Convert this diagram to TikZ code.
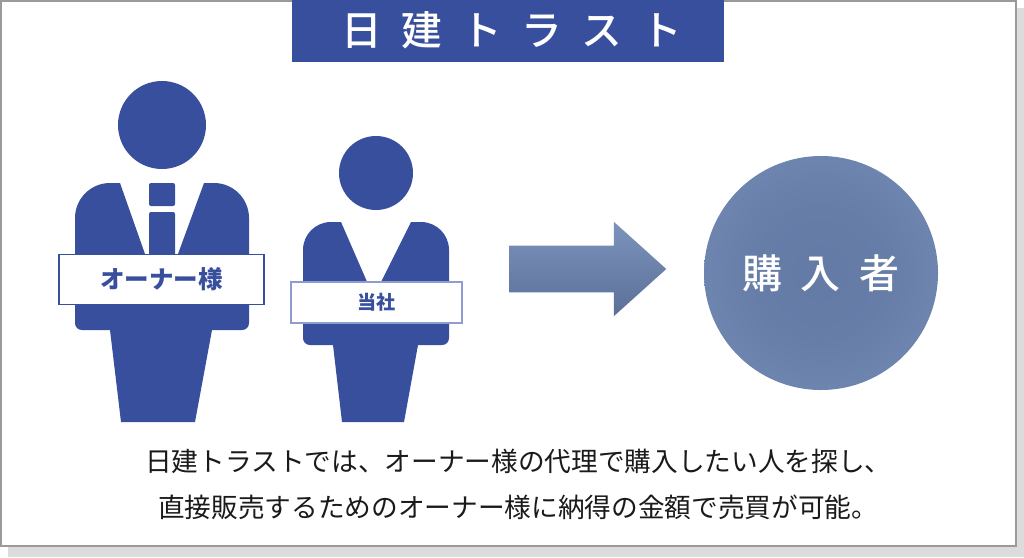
\documentclass[tikz,border=0pt]{standalone}
\usepackage{fontspec}
\setmainfont{Noto Sans CJK JP}
\newfontfamily\widefont[WordSpace=2.1]{Noto Sans CJK JP Medium}
\usetikzlibrary{shapes.arrows,shadings}
\definecolor{suit}{HTML}{384F9E}
\definecolor{suitlight}{HTML}{8E9CCF}
\definecolor{framegray}{HTML}{9A9A9A}
\definecolor{shadowgray}{HTML}{DCDCDC}
\definecolor{inkblack}{HTML}{1A1A1A}
\definecolor{arrowtop}{HTML}{7C93BB}
\definecolor{arrowbottom}{HTML}{5B7098}
\pgfdeclareradialshading{buyerfill}{\pgfpoint{0bp}{0bp}}{%
  rgb(0bp)=(0.39,0.48,0.65);rgb(14bp)=(0.40,0.49,0.66);rgb(47bp)=(0.49,0.58,0.74);rgb(100bp)=(0.49,0.58,0.74)}

\begin{document}
\begin{tikzpicture}[x=0.75pt,y=-0.75pt,
  namebox/.style={rectangle,draw=suit,fill=white,line width=1.1pt,text=suit,inner sep=0pt},
  body/.style={font=\fontsize{20pt}{24pt}\selectfont,text=inkblack,anchor=west,inner sep=0pt}]
  \useasboundingbox (0,0) rectangle (1024,557);

  \fill[shadowgray] (8,8) rectangle (1024,557);
  \draw[framegray,fill=white,line width=1.5pt] (1,1) rectangle (1016,546);

  \node[rectangle,fill=suit,inner sep=0pt,minimum width=324pt,minimum height=46.5pt] (titlebox) at (508,31) {};
  \node[text=white,inner sep=0pt,font=\widefont\fontsize{30.5pt}{36pt}\selectfont] (titletext) at (512,30) {日 建 ト ラ ス ト};

  % owner
  \fill[suit] (162,125) circle[radius=44];
  \fill[suit] (120,183) -- (110,183) .. controls (90.7,183) and (75,198.7) .. (75,218) -- (75,323) .. controls (75,327) and (78,330) .. (82,330) -- (110,330) -- (121,422) -- (195,422) -- (212,330) -- (242,330) .. controls (246,330) and (249,327) .. (249,323) -- (249,218) .. controls (249,198.7) and (233.3,183) .. (214,183) -- (204,183) -- (178,254) -- (145,254) -- cycle;
  \fill[suit,rounded corners=1.5pt] (149,183) rectangle (175,206);
  \fill[suit,rounded corners=1.5pt] (149,212) rectangle (175,256);
  \node[namebox,minimum width=153.75pt,minimum height=37.5pt,font=\bfseries\fontsize{18.4pt}{22pt}\selectfont] (owner) at (161.5,279.5) {オーナー様};

  % company
  \fill[suit] (376,173) circle[radius=37];
  \fill[suit] (341,222) -- (331,222) .. controls (315.5,222) and (303,234.5) .. (303,250) -- (303,338) .. controls (303,342) and (306,345) .. (310,345) -- (333,345) -- (342,422) -- (404,422) -- (418,345) -- (442,345) .. controls (446,345) and (449,342) .. (449,338) -- (449,250) .. controls (449,234.5) and (436.5,222) .. (421,222) -- (411,222) -- (380,284) -- (368,284) -- cycle;
  \node[namebox,draw=suitlight,minimum width=128.25pt,minimum height=30.75pt,font=\bfseries\fontsize{14.3pt}{18pt}\selectfont] (company) at (376.5,302.5) {当社};

  \node[single arrow,anchor=tail,single arrow head extend=18pt,single arrow tip angle=84,single arrow head indent=0pt,minimum height=117.75pt,inner xsep=0pt,inner ysep=17.25pt,top color=arrowtop,bottom color=arrowbottom] (flow) at (509,269) {};

  \node[circle,minimum size=175.5pt,inner sep=0pt,shading=buyerfill,text=white,font=\widefont\fontsize{30pt}{36pt}\selectfont] (buyer) at (821,273) {\raisebox{-2.5pt}{購 入 者}};

  \node[body] (lineone) at (145,461) {日建トラストでは、オーナー様の代理で購入したい人を探し、};
  \node[body] (linetwo) at (158,507) {直接販売するためのオーナー様に納得の金額で売買が可能。};
\end{tikzpicture}
\end{document}
